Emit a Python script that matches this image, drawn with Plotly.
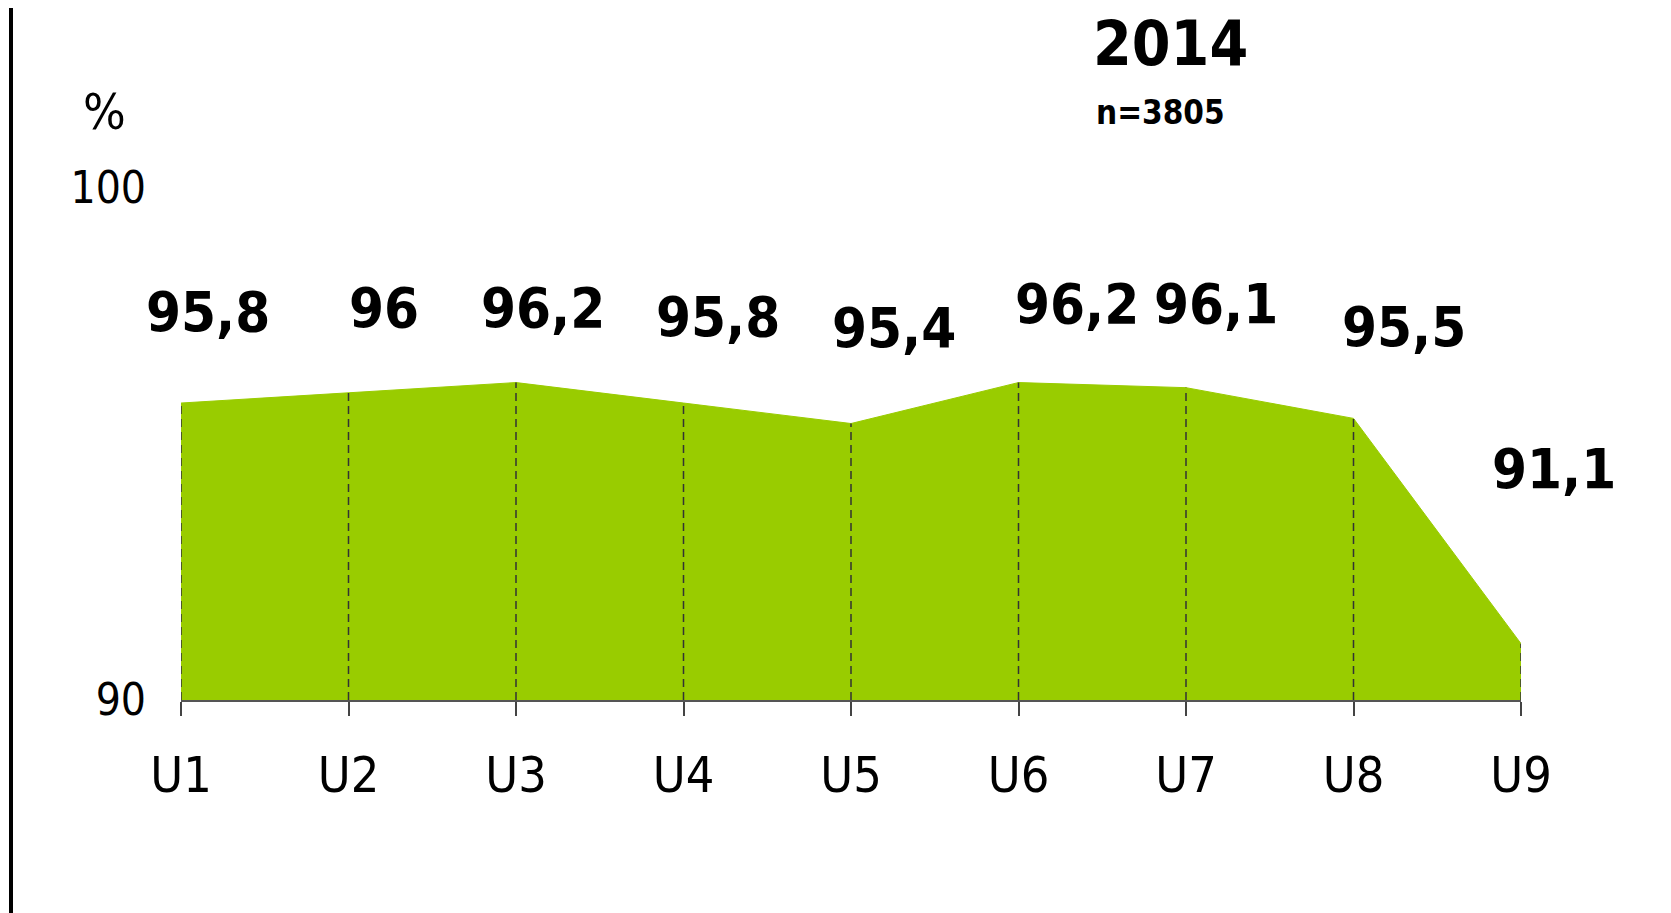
import plotly.graph_objects as go

categories = ["U1", "U2", "U3", "U4", "U5", "U6", "U7", "U8", "U9"]
values = [95.8, 96.0, 96.2, 95.8, 95.4, 96.2, 96.1, 95.5, 91.1]
value_labels = ["95,8", "96", "96,2", "95,8", "95,4", "96,2", "96,1", "95,5", "91,1"]
y_ticks = [90, 100]
title_text = "2014"
subtitle_text = "n=3805"
unit_text = "%"

# label offsets (pixels) relative to each point - styling only
label_dx = [27, 35, 27, 34, 43, 58, 30, 50, 33]
label_dy = [92, 85, 75, 87, 96, 79, 84, 92, 175]

FONT = "DejaVu Sans Condensed, DejaVu Sans, Verdana, sans-serif"

fig = go.Figure()

fig.add_trace(go.Scatter(
    x=categories, y=values, mode="lines", fill="tozeroy",
    fillcolor="#99CC00", line=dict(color="#99CC00", width=1),
    hoverinfo="skip", showlegend=False,
))

dx, dy = [], []
for c, v in zip(categories, values):
    dx += [c, c, None]
    dy += [y_ticks[0], v, None]
fig.add_trace(go.Scatter(
    x=dx, y=dy, mode="lines",
    line=dict(color="#333333", width=1.5, dash="8px,5px"),
    hoverinfo="skip", showlegend=False,
))

for c, v, t, ox, oy in zip(categories, values, value_labels, label_dx, label_dy):
    fig.add_annotation(x=c, y=v, text=t, showarrow=False,
                       xshift=ox, yshift=oy, xanchor="center", yanchor="middle",
                       font=dict(family=FONT, size=56, color="black", weight="bold"))

fig.add_annotation(xref="paper", yref="paper", x=0.7388, y=1.283, text=title_text,
                   showarrow=False, xanchor="center", yanchor="middle", borderpad=0,
                   font=dict(family=FONT, size=62, color="black", weight="bold"))
fig.add_annotation(xref="paper", yref="paper", x=0.7306, y=1.1465, text=subtitle_text,
                   showarrow=False, xanchor="center", yanchor="middle",
                   font=dict(family=FONT, size=33, color="black", weight="bold"))
fig.add_annotation(xref="paper", yref="paper", x=0, y=1, xshift=-77, yshift=76,
                   text=unit_text, showarrow=False, xanchor="center", yanchor="middle",
                   font=dict(family=FONT, size=50, color="black"))

fig.add_shape(type="line", xref="paper", yref="paper", xsizemode="pixel", xanchor=0,
              x0=-170, x1=-170, y0=-0.42, y1=1.3535,
              line=dict(color="black", width=4))

fig.update_layout(
    width=1663, height=905,
    margin=dict(l=173, r=150, t=180, b=213),
    plot_bgcolor="white", paper_bgcolor="white",
    xaxis=dict(type="category", range=[0, 8], showgrid=False, zeroline=False,
               showline=True, linecolor="#555555", linewidth=2,
               ticks="outside", ticklen=14, tickcolor="#444444", tickwidth=1.5,
               tickfont=dict(family=FONT, size=50, color="black"),
               ticklabelstandoff=16),
    yaxis=dict(range=[90, 100], tickvals=y_ticks, showgrid=False, zeroline=False,
               showline=False, ticks="",
               tickfont=dict(family=FONT, size=44, color="black"),
               ticklabelstandoff=34),
)

fig.write_html("out.html")
